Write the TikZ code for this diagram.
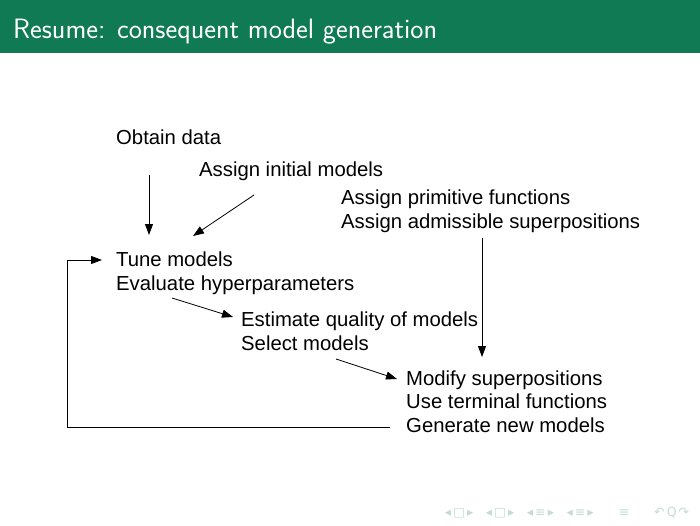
\documentclass[tikz,border=0pt]{standalone}
\usepackage{fontspec}
\setmainfont{Liberation Sans}
\newfontfamily\navfont{DejaVu Sans}
\usetikzlibrary{arrows.meta}
\definecolor{hdr}{RGB}{16,122,84}
\definecolor{nav}{RGB}{195,220,210}
\begin{document}
\begin{tikzpicture}[x=1pt,y=-1pt,
  txt/.style={inner sep=0pt, anchor=base west, align=left, font=\fontsize{20.3}{23.5}\selectfont},
  arr/.style={-{Triangle[length=11pt,width=8pt]}, line width=0.8pt}]
\useasboundingbox (0,0) rectangle (700,525);
\fill[hdr] (0,0) rectangle (700,53);
\node[anchor=base west, inner sep=0pt, text=white, font=\sffamily\fontsize{28}{30}\selectfont] (title) at (13,38) {Resume: consequent model generation};
% base anchor of a multi-line node = baseline of its last line
\node[txt] (obtain) at (116,144) {Obtain data};
\node[txt] (init) at (199,176) {Assign initial models};
\node[txt] (prim) at (341,228) {Assign primitive functions\\Assign admissible superpositions};
\node[txt] (tune) at (116,290) {Tune models\\Evaluate hyperparameters};
\node[txt] (est) at (241,350) {Estimate quality of models\\Select models};
\node[txt] (mod) at (406,432) {Modify superpositions\\Use terminal functions\\Generate new models};
\coordinate (a1s) at (149,175); \coordinate (a1e) at (149,235);
\coordinate (a2s) at (254,195); \coordinate (a2e) at (193,236);
\coordinate (a3s) at (482,238); \coordinate (a3e) at (482,357);
\coordinate (a4s) at (172,298); \coordinate (a4e) at (233,317);
\coordinate (a5s) at (336,359); \coordinate (a5e) at (397,379);
\coordinate (f1) at (390,427); \coordinate (f2) at (67,427);
\coordinate (f3) at (67,260); \coordinate (f4) at (102,260);
\draw[arr] (a1s) -- (a1e);
\draw[arr] (a2s) -- (a2e);
\draw[arr] (a3s) -- (a3e);
\draw[arr] (a4s) -- (a4e);
\draw[arr] (a5s) -- (a5e);
\draw[arr] (f1) -- (f2) -- (f3) -- (f4);
\node[inner sep=0pt, text=nav, font=\navfont\fontsize{12.5}{13}\selectfont] (navi) at (567,513) {◂\,□\,▸\quad◂\,□\,▸\quad◂\,≡\,▸\quad◂\,≡\,▸\qquad≡\qquad↶\,Q\,↷};
\end{tikzpicture}
\end{document}
